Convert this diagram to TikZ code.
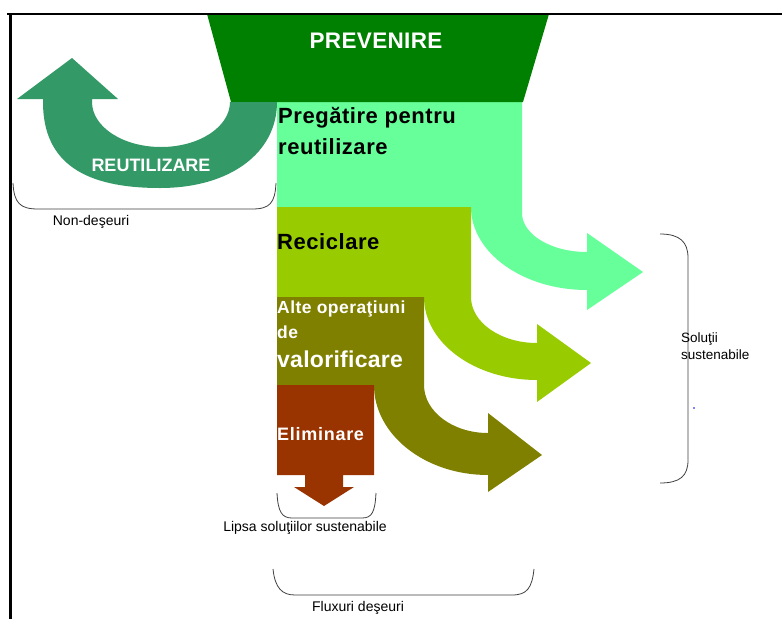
\documentclass[tikz,border=0pt]{standalone}
\usepackage{fontspec}
\setmainfont{Liberation Sans}
\definecolor{prevgreen}{HTML}{008000}
\definecolor{lightgreen}{HTML}{66FF99}
\definecolor{ygreen}{HTML}{99CC00}
\definecolor{valolive}{HTML}{808000}
\definecolor{elimbrown}{HTML}{993300}
\definecolor{reusegreen}{HTML}{339966}
\begin{document}
\begin{tikzpicture}[x=1pt,y=-1pt,
  bracel/.style={draw=black!75, line width=0.8pt},
  lbl/.style={font=\fontsize{14}{16}\selectfont, inner sep=0pt, anchor=base},
  bigb/.style={font=\fontsize{22}{26}\selectfont\bfseries\addfontfeature{LetterSpace=2.5}, inner sep=0pt, anchor=base west},
  whiteb/.style={text=white, inner sep=0pt, anchor=base west}]
\useasboundingbox (0,0) rectangle (782,619);
\fill[white] (0,0) rectangle (782,619);

% light green block + arrow
\fill[lightgreen] (277,102) -- (522,102) -- (522,213)
  .. controls (522,234.5) and (551,252) .. (587,252) -- (587,233) -- (643,272) -- (587,310) -- (587,290)
  .. controls (523,290) and (471,252.8) .. (471,207) -- (277,207) -- cycle;

% yellow-green block + arrow
\fill[ygreen] (277,207) -- (471,207) -- (471,297)
  .. controls (471,322.4) and (500.5,343) .. (537,343) -- (537,324) -- (591,363) -- (537,402) -- (537,380)
  .. controls (474.6,380) and (424,342.8) .. (424,297) -- (277,297) -- cycle;

% olive block + arrow
\fill[valolive] (277,297) -- (424,297) -- (424,385)
  .. controls (424,411.5) and (452.7,433) .. (488,433) -- (488,413) -- (542,455) -- (488,492) -- (488,475)
  .. controls (425,475) and (374,434.7) .. (374,385) -- (277,385) -- cycle;

% brown block + down arrow
\fill[elimbrown] (277,385) -- (374,385) -- (374,475) -- (343,475) -- (343,487) -- (354,487)
  -- (324,506) -- (294,487) -- (305,487) -- (305,475) -- (277,475) -- cycle;

% PREVENIRE trapezoid
\fill[prevgreen] (207,14) -- (549,14) -- (523,102) -- (231,102) -- cycle;

% REUTILIZARE U-arrow
\fill[reusegreen] (277,102) .. controls (277,153) and (230,188) .. (160,188)
  .. controls (86,188) and (43,164) .. (43,102) -- (43,99) -- (17,99) -- (72,58) -- (118,99) -- (92,99) -- (92,102)
  .. controls (92,126.9) and (122.9,147) .. (161,147)
  .. controls (199.1,147) and (230,126.9) .. (230,102) -- cycle;

% braces
\draw[bracel] (13,183) .. controls (14,203) and (20,209) .. (38,209) -- (252,209) .. controls (270,209) and (275,203) .. (276,183);
\draw[bracel] (660,234) .. controls (680,234) and (688,242) .. (688,258) -- (688,460) .. controls (688,476) and (680,483) .. (660,483);
\draw[bracel] (277,493) .. controls (278,512) and (282,518) .. (292,518) -- (362,518) .. controls (372,518) and (375,512) .. (376,493);
\draw[bracel] (273,569) .. controls (275,588) and (282,595) .. (295,595) -- (512,595) .. controls (527,595) and (532,588) .. (534,569);
\fill[blue] (694,408) circle (0.8);

% texts
\node[whiteb, anchor=base, font=\fontsize{22.5}{26}\selectfont\bfseries\addfontfeature{LetterSpace=1.5}] (prev) at (376,48) {PREVENIRE};
\node[bigb] (preg1) at (278,123) {Pregătire pentru};
\node[bigb] (preg2) at (278,154) {reutilizare};
\node[bigb] (recic) at (277,249) {Reciclare};
\node[whiteb, font=\fontsize{17.5}{20}\selectfont\bfseries\addfontfeature{LetterSpace=2.5}] (alte1) at (277,313) {Alte operaţiuni};
\node[whiteb, font=\fontsize{17.5}{20}\selectfont\bfseries\addfontfeature{LetterSpace=2.5}] (alte2) at (277,338) {de};
\node[whiteb, font=\fontsize{23}{26}\selectfont\bfseries\addfontfeature{LetterSpace=1.2}] (alte3) at (277,367) {valorificare};
\node[whiteb, font=\fontsize{18}{20}\selectfont\bfseries\addfontfeature{LetterSpace=4}] (elim) at (277,440) {Eliminare};
\node[whiteb, anchor=base, font=\fontsize{18}{20}\selectfont\bfseries] (reut) at (151,171) {REUTILIZARE};

\node[lbl] (nondes) at (91,225) {Non-deşeuri};
\node[lbl] (lipsa) at (305,531) {Lipsa soluţiilor sustenabile};
\node[lbl] (flux) at (358,611) {Fluxuri deşeuri};
\node[lbl, anchor=base west, font=\fontsize{13.5}{16}\selectfont] (sol1) at (681,342) {Soluţii};
\node[lbl, anchor=base west, font=\fontsize{13.5}{16}\selectfont] (sol2) at (681,359) {sustenabile};

% frame
\draw[line width=2.5pt] (7,14) -- (782,14);
\draw[line width=3pt] (10.5,14) -- (10.5,619);
\end{tikzpicture}
\end{document}
